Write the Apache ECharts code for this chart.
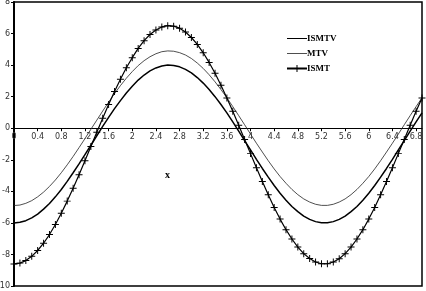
<!DOCTYPE html>
<html>
<head>
<meta charset="utf-8">
<script src="https://cdn.jsdelivr.net/npm/echarts@6/dist/echarts.min.js"></script>
<style>
html,body{margin:0;padding:0;background:#fff;}
#c{width:426px;height:291px;}
</style>
</head>
<body>
<div id="c"></div>
<script>
const xCategories = ['0','0.1','0.2','0.3','0.4','0.5','0.6','0.7','0.8','0.9',
'1','1.1','1.2','1.3','1.4','1.5','1.6','1.7','1.8','1.9',
'2','2.1','2.2','2.3','2.4','2.5','2.6','2.7','2.8','2.9',
'3','3.1','3.2','3.3','3.4','3.5','3.6','3.7','3.8','3.9',
'4','4.1','4.2','4.3','4.4','4.5','4.6','4.7','4.8','4.9',
'5','5.1','5.2','5.3','5.4','5.5','5.6','5.7','5.8','5.9',
'6','6.1','6.2','6.3','6.4','6.5','6.6','6.7','6.8','6.9'];

const ismtv = [-6.00,-5.96,-5.86,-5.68,-5.44,-5.13,-4.77,-4.35,-3.88,-3.37,
-2.82,-2.26,-1.67,-1.08,-0.48,0.12,0.69,1.24,1.75,2.23,
2.66,3.05,3.37,3.63,3.82,3.94,4.00,3.98,3.89,3.73,
3.51,3.21,2.86,2.46,2.00,1.50,0.97,0.40,-0.18,-0.78,
-1.37,-1.97,-2.55,-3.10,-3.63,-4.12,-4.56,-4.96,-5.29,-5.57,
-5.78,-5.92,-5.99,-5.99,-5.92,-5.78,-5.57,-5.29,-4.96,-4.56,
-4.12,-3.63,-3.10,-2.55,-1.97,-1.37,-0.78,-0.18,0.40,0.97];

const mtv = [-4.90,-4.87,-4.76,-4.59,-4.35,-4.05,-3.69,-3.28,-2.82,-2.32,
-1.79,-1.23,-0.66,-0.07,0.51,1.09,1.65,2.19,2.70,3.17,
3.59,3.97,4.28,4.53,4.72,4.85,4.90,4.88,4.79,4.64,
4.42,4.13,3.79,3.39,2.94,2.45,1.93,1.37,0.80,0.22,
-0.37,-0.95,-1.51,-2.06,-2.58,-3.06,-3.49,-3.88,-4.21,-4.48,
-4.68,-4.82,-4.89,-4.89,-4.82,-4.68,-4.48,-4.21,-3.88,-3.49,
-3.06,-2.58,-2.06,-1.51,-0.95,-0.37,0.22,0.80,1.37,1.93];

const ismt = [-8.60,-8.55,-8.39,-8.12,-7.75,-7.29,-6.74,-6.10,-5.39,-4.62,
-3.80,-2.95,-2.06,-1.16,-0.26,0.63,1.50,2.33,3.11,3.83,
4.47,5.06,5.55,5.94,6.23,6.42,6.50,6.47,6.34,6.10,
5.75,5.31,4.78,4.17,3.48,2.73,1.92,1.07,0.19,-0.71,
-1.61,-2.51,-3.38,-4.22,-5.02,-5.76,-6.43,-7.02,-7.53,-7.95,
-8.26,-8.48,-8.59,-8.59,-8.48,-8.27,-7.95,-7.53,-7.02,-6.43,
-5.76,-5.02,-4.22,-3.38,-2.51,-1.61,-0.71,0.19,1.07,1.92];

const seriesNames = ['ISMTV','MTV','ISMT'];
const yTicks = {min:-10, max:8, interval:2};

const plus = 'path://M4.3,0H5.7V4.3H10V5.7H5.7V10H4.3V5.7H0V4.3H4.3Z';

const gridTop = 2, gridBottom = 5, H = 291;
const plotH = H - gridTop - gridBottom;
const zeroFromBottom = plotH * (0 - yTicks.min) / (yTicks.max - yTicks.min);

const chart = echarts.init(document.getElementById('c'), null, {renderer:'canvas'});
chart.setOption({
  animation:false,
  backgroundColor:'#fff',
  grid:{left:14, right:4, top:gridTop, bottom:gridBottom, containLabel:false, outerBoundsMode:'none',
        show:true, borderColor:'#000', borderWidth:1.5, backgroundColor:'transparent'},
  legend:{
    orient:'vertical', left:281, top:29, itemGap:6, itemWidth:20, itemHeight:9,
    textStyle:{fontFamily:'Liberation Serif', fontWeight:'bold', fontSize:9, color:'#000', padding:[0,0,0,-5]},
    data:[
      {name:seriesNames[0], icon:'path://M0,4.5H20V5.5H0Z'},
      {name:seriesNames[1], icon:'path://M0,4.6H20V5.4H0Z'},
      {name:seriesNames[2]}
    ]
  },
  xAxis:{
    type:'category', data:xCategories, boundaryGap:false, position:'bottom',
    offset: -zeroFromBottom,
    axisLine:{onZero:false, lineStyle:{color:'#000', width:1}},
    axisTick:{show:true, interval:3, length:3, lineStyle:{color:'#000'}},
    axisLabel:{interval:3, fontSize:8, color:'#333', fontFamily:'DejaVu Sans', margin:5},
    splitLine:{show:false}
  },
  yAxis:{
    type:'value', min:yTicks.min, max:yTicks.max, interval:yTicks.interval,
    axisLine:{show:true, onZero:false, lineStyle:{color:'#000', width:2}},
    axisTick:{show:true, length:3, lineStyle:{color:'#000'}},
    axisLabel:{fontSize:8, color:'#333', fontFamily:'DejaVu Sans', margin:4},
    splitLine:{show:false}
  },
  graphic:[{type:'text', left:165, top:170, style:{text:'x', font:'bold 10px "Liberation Serif"', fill:'#000'}}],
  series:[
    {name:seriesNames[0], type:'line', data:ismtv, showSymbol:false, symbol:'none', lineStyle:{color:'#000', width:1.5}, itemStyle:{color:'#000'}},
    {name:seriesNames[1], type:'line', data:mtv, showSymbol:false, symbol:'none', lineStyle:{color:'#222', width:0.8}, itemStyle:{color:'#222'}},
    {name:seriesNames[2], type:'line', data:ismt, symbol:plus, symbolSize:7, showAllSymbol:true, lineStyle:{color:'#000', width:1.2}, itemStyle:{color:'#000'}}
  ]
});
</script>
</body>
</html>
